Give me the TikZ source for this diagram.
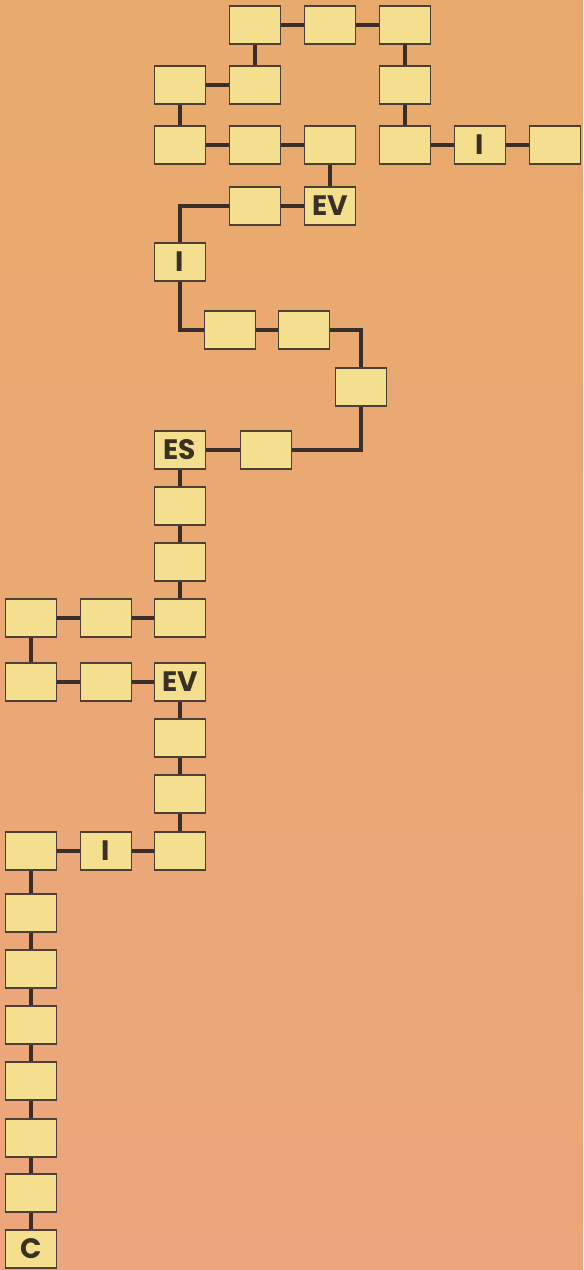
\documentclass[tikz,border=0pt]{standalone}
\usepackage{fontspec}
\setmainfont{Poppins}
\usetikzlibrary{positioning}
\definecolor{BoardTop}{HTML}{E8AA6C}
\definecolor{BoardBot}{HTML}{ECA57C}
\definecolor{CellFill}{HTML}{F3DF8E}
\definecolor{CellLine}{HTML}{4C4036}
\definecolor{LinkLine}{HTML}{3A2E28}
\definecolor{MarkText}{HTML}{3A3026}
\begin{document}
\begin{tikzpicture}[x=0.02cm,y=-0.02cm,
    cell/.style={draw=CellLine,line width=0.8pt,fill=CellFill,
      minimum width=1.02cm,minimum height=0.76cm,inner sep=0pt,
      font=\fontsize{16}{18}\selectfont\bfseries,text=MarkText},
    link/.style={draw=LinkLine,line width=1.9pt}]
  % board
  \fill[top color=BoardTop,bottom color=BoardBot] (0,0) rectangle (583,1270);
  \useasboundingbox (0,0) rectangle (583,1270);
  % top loop
  \node[cell] (a1) at (255,25) {};
  \node[cell] (a2) at (330,25) {};
  \node[cell] (a3) at (405,25) {};
  \node[cell] (b1) at (180,85) {};
  \node[cell] (b2) at (255,85) {};
  \node[cell] (b3) at (405,85) {};
  \node[cell] (c1) at (180,145) {};
  \node[cell] (c2) at (255,145) {};
  \node[cell] (c3) at (330,145) {};
  \node[cell] (c4) at (405,145) {};
  \node[cell] (c5) at (480,145) {I};
  \node[cell] (c6) at (555,145) {};
  \node[cell] (d1) at (255,206) {};
  \node[cell] (d2) at (330,206) {EV};
  \draw[link] (a1) -- (a2) (a2) -- (a3) (a1) -- (b2) (b1) -- (b2)
    (b1) -- (c1) (c1) -- (c2) (c2) -- (c3) (c3) -- (d2) (d1) -- (d2)
    (a3) -- (b3) (b3) -- (c4) (c4) -- (c5) (c5) -- (c6);
  % winding part
  \node[cell] (i1) at (180,262) {I};
  \node[cell] (e1) at (230,330) {};
  \node[cell] (e2) at (304,330) {};
  \node[cell] (f1) at (361,387) {};
  \node[cell] (g1) at (266,450) {};
  \node[cell] (es) at (180,450) {ES};
  \draw[link] (d1.west) -| (i1.north);
  \draw[link] (i1.south) |- (e1.west);
  \draw[link] (e1) -- (e2);
  \draw[link] (e2.east) -| (f1.north);
  \draw[link] (f1.south) |- (g1.east);
  \draw[link] (g1) -- (es);
  % middle part
  \node[cell] (h1) at (180,506) {};
  \node[cell] (h2) at (180,562) {};
  \node[cell] (h3) at (180,618) {};
  \node[cell] (h4) at (106,618) {};
  \node[cell] (h5) at (31,618) {};
  \node[cell] (k1) at (31,682) {};
  \node[cell] (k2) at (106,682) {};
  \node[cell] (ev) at (180,682) {EV};
  \draw[link] (es) -- (h1) (h1) -- (h2) (h2) -- (h3) (h3) -- (h4)
    (h4) -- (h5) (h5) -- (k1) (k1) -- (k2) (k2) -- (ev);
  \node[cell] (m1) at (180,738) {};
  \node[cell] (m2) at (180,794) {};
  \node[cell] (m3) at (180,851) {};
  \node[cell] (m4) at (106,851) {I};
  \node[cell] (n0) at (31,851) {};
  \draw[link] (ev) -- (m1) (m1) -- (m2) (m2) -- (m3) (m3) -- (m4) (m4) -- (n0);
  % bottom column
  \node[cell] (n1) at (31,913) {};
  \node[cell] (n2) at (31,969) {};
  \node[cell] (n3) at (31,1025) {};
  \node[cell] (n4) at (31,1081) {};
  \node[cell] (n5) at (31,1138) {};
  \node[cell] (n6) at (31,1193) {};
  \node[cell] (n7) at (31,1249) {C};
  \draw[link] (n0) -- (n1) (n1) -- (n2) (n2) -- (n3) (n3) -- (n4)
    (n4) -- (n5) (n5) -- (n6) (n6) -- (n7);
\end{tikzpicture}
\end{document}
